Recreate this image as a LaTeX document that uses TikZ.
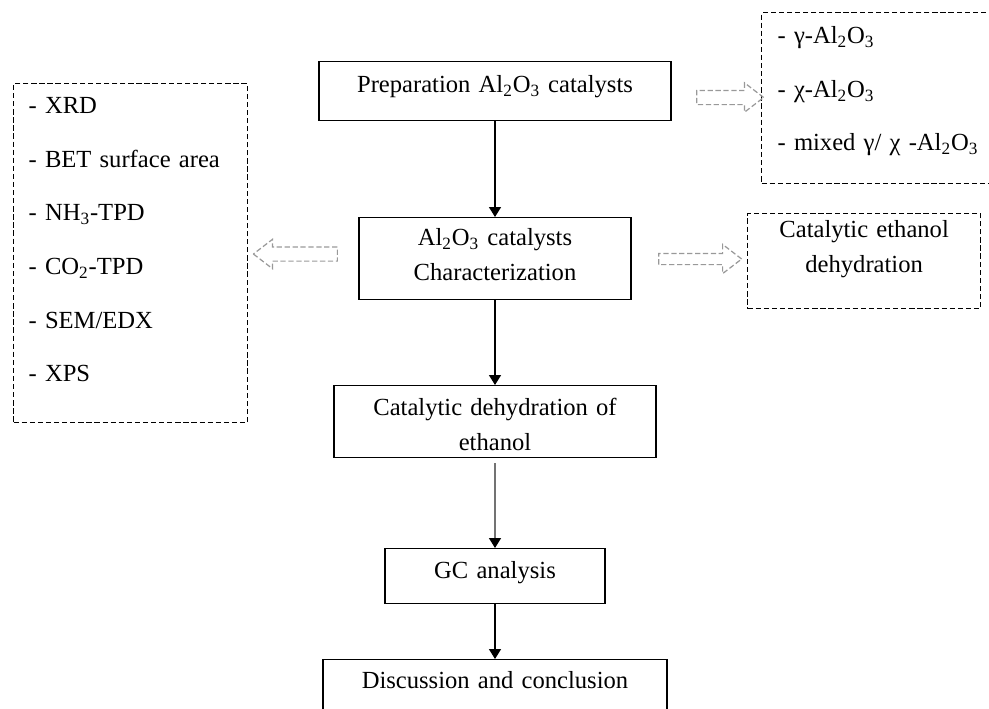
\documentclass[tikz,border=0pt]{standalone}
\usepackage{fontspec}
\setmainfont{Liberation Serif}
\usetikzlibrary{arrows.meta,shapes.arrows}
\newcommand{\alox}{Al\textsubscript{2}O\textsubscript{3}}
\tikzset{
  stepbox/.style={draw, line width=0.8pt, inner sep=0pt, align=center,
    font=\fontsize{14}{20}\selectfont},
  listbox/.style={draw, line width=0.7pt, dash pattern=on 3pt off 1.6pt,
    inner ysep=0pt, align=left, font=\fontsize{14}{30.5}\selectfont},
  flow/.style={-{Triangle[length=0.2cm,width=0.24cm,color=black]}, line width=0.8pt},
  hollow/.style={single arrow, draw=gray!80, line width=0.7pt,
    dash pattern=on 3pt off 1.5pt, inner xsep=0pt, inner ysep=0.13cm,
    single arrow head extend=0.15cm, single arrow tip angle=75}
}
\begin{document}
\begin{tikzpicture}
      \useasboundingbox (0,0) rectangle (19.78,-14.16);
      % main steps
      \node[stepbox, anchor=north, text width=7.04cm, text height=0.62cm, text depth=0.56cm]
        (prep) at (9.9,-1.22) {Preparation \alox{} catalysts};
      \node[stepbox, anchor=north, text width=5.44cm, text height=0.56cm, text depth=1.08cm]
        (charac) at (9.9,-4.34) {\alox{} catalysts\\Characterization};
      \node[stepbox, anchor=north, text width=6.44cm, text height=0.60cm, text depth=0.84cm]
        (dehyd) at (9.9,-7.70) {Catalytic dehydration of\\ethanol};
      \node[stepbox, anchor=north, text width=4.40cm, text height=0.60cm, text depth=0.50cm]
        (gc) at (9.9,-10.96) {GC analysis};
      \node[stepbox, anchor=north, text width=6.88cm, text height=0.58cm, text depth=0.9cm]
        (disc) at (9.9,-13.18) {Discussion and conclusion};
      % side boxes
      \node[listbox, anchor=north west, inner xsep=0.3cm, text width=4.08cm,
        text height=0.60cm, text depth=6.18cm] (tests) at (0.26,-1.66)
        {- XRD\\- BET surface area\\- NH\textsubscript{3}-TPD\\- CO\textsubscript{2}-TPD\\- SEM/EDX\\- XPS};
      \node[listbox, anchor=north west, inner xsep=0.32cm, text width=4.34cm,
        text height=0.62cm, text depth=2.80cm] (phases) at (15.22,-0.24)
        {- γ-\alox\\- χ-\alox\\- mixed γ/ χ -\alox};
      \node[listbox, anchor=north west, inner xsep=0pt, text width=4.66cm, align=center,
        font=\fontsize{14}{20}\selectfont,
        text height=0.48cm, text depth=1.42cm] (reaction) at (14.94,-4.26)
        {Catalytic ethanol\\dehydration};
      % hollow arrows
      \node[hollow, minimum height=1.34cm] (toPhases) at (14.51,-1.95) {};
      \node[hollow, minimum height=1.68cm, shape border rotate=180] (toTests) at (6.0,-5.08) {};
      \node[hollow, minimum height=1.66cm, inner ysep=0.1cm, single arrow head extend=0.18cm]
        (toReaction) at (13.93,-5.18) {};
      % flow
      \draw[flow] (prep) -- (charac);
      \draw[flow] (charac) -- (dehyd);
      \draw[flow, draw=gray!90!black, shorten <=0.1cm] (dehyd) -- (gc);
      \draw[flow] (gc) -- (disc);
    \end{tikzpicture}
\end{document}
